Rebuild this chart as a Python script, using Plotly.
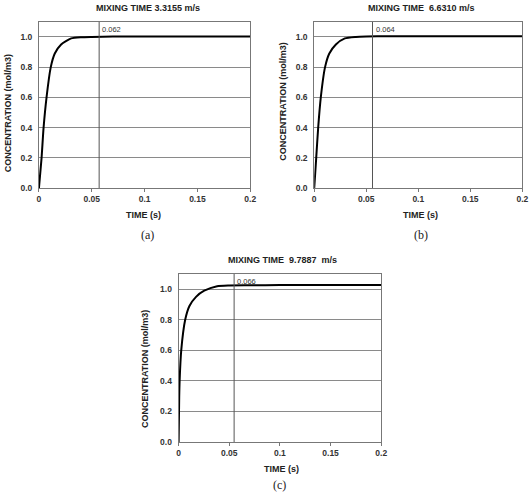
import plotly.graph_objects as go

# ---- data ----
time_a = [0, 0.0025, 0.0044, 0.0072, 0.0112, 0.015, 0.021, 0.0305, 0.04, 0.05, 0.07, 0.1, 0.15, 0.2]
conc_a = [0, 0.2, 0.4, 0.6, 0.8, 0.89, 0.95, 0.99, 0.998, 1.0, 1.002, 1.003, 1.003, 1.003]

time_b = [0, 0.0019, 0.0038, 0.0063, 0.0104, 0.0145, 0.0208, 0.0294, 0.04, 0.05, 0.07, 0.1, 0.15, 0.2]
conc_b = [0, 0.2, 0.4, 0.6, 0.8, 0.89, 0.95, 0.99, 1.0, 1.003, 1.005, 1.005, 1.005, 1.005]

time_c = [0, 0.0006, 0.001, 0.0026, 0.0065, 0.0107, 0.0172, 0.0253, 0.038, 0.05, 0.07, 0.1, 0.15, 0.2]
conc_c = [0, 0.3, 0.4, 0.6, 0.8, 0.89, 0.95, 0.99, 1.02, 1.025, 1.026, 1.027, 1.027, 1.027]

titles = ["MIXING TIME 3.3155 m/s", "MIXING TIME  6.6310 m/s", "MIXING TIME  9.7887  m/s"]
marker_x = [0.057, 0.056, 0.0548]
marker_labels = ["0.062", "0.064", "0.066"]
panel_labels = ["(a)", "(b)", "(c)"]
x_ticks = [0, 0.05, 0.1, 0.15, 0.2]
x_tick_text = ["0", "0.05", "0.1", "0.15", "0.2"]
y_ticks = [0, 0.2, 0.4, 0.6, 0.8, 1.0]

W, H = 532, 499
# plot boxes in pixels: left, right, top, bottom
boxes = [(37.5, 252, 22, 190), (317, 528.3, 22, 190), (179.3, 385, 276.7, 446.5)]
ytitle_dy = [8, -3, 11]
ytitle_dx = [32, 32, 34]

fig = go.Figure()
series = [(time_a, conc_a), (time_b, conc_b), (time_c, conc_c)]
bold = "Liberation Sans"
ann = []
shapes = []
for i, ((t, c), (l, r, tp, bt)) in enumerate(zip(series, boxes)):
    k = "" if i == 0 else str(i + 1)
    fig.add_trace(go.Scatter(x=t, y=c, mode="lines", line=dict(color="black", width=2, shape="spline", smoothing=0.6),
                             xaxis="x" + k, yaxis="y" + k, showlegend=False, hoverinfo="skip"))
    xd = [l / W, r / W]
    yd = [(H - bt) / H, (H - tp) / H]
    fig.update_layout(**{
        "xaxis" + k: dict(domain=xd, range=[0, 0.2], tickvals=x_ticks, ticktext=x_tick_text,
                          showgrid=False, zeroline=False, showline=True, linecolor="#777", mirror=True,
                          ticks="outside", ticklen=3, tickcolor="#777",
                          tickfont=dict(family=bold, size=8.5, color="#333", weight="bold"),
                          anchor="y" + k, fixedrange=True),
        "yaxis" + k: dict(domain=yd, range=[0, 1.1], tickvals=y_ticks, tickformat=".1f",
                          showgrid=True, gridcolor="#8a8a8a", gridwidth=1, zeroline=False,
                          showline=True, linecolor="#777", mirror=True, ticks="",
                          ticklabelstandoff=4,
                          tickfont=dict(family=bold, size=8.5, color="#333", weight="bold"),
                          anchor="x" + k, fixedrange=True),
    })
    xref = "x" + k
    yref = "y" + k
    shapes.append(dict(type="line", xref=xref, yref=yref, x0=marker_x[i], x1=marker_x[i], y0=0, y1=1.1,
                       line=dict(color="#555", width=1)))
    ann.append(dict(x=marker_x[i], y=1.0, xref=xref, yref=yref, text=marker_labels[i], showarrow=False,
                    xanchor="left", yanchor="bottom", xshift=1, yshift=1,
                    font=dict(family="Liberation Sans", size=7.5, color="#333")))
    cx = (l + r) / 2
    ann.append(dict(x=(cx + 3) / W, y=(H - (tp - 14)) / H, xref="paper", yref="paper", text=titles[i],
                    showarrow=False, xanchor="center", yanchor="middle",
                    font=dict(family=bold, size=9, color="#222", weight="bold")))
    ann.append(dict(x=(cx + (-1 if i == 0 else 2)) / W, y=(H - (bt + 27)) / H, xref="paper", yref="paper", text="TIME (s)",
                    showarrow=False, xanchor="center", yanchor="middle",
                    font=dict(family=bold, size=9, color="#222", weight="bold")))
    ann.append(dict(x=(cx + (3 if i < 2 else 0)) / W, y=(H - (bt + (47 if i < 2 else 43))) / H, xref="paper", yref="paper",
                    text=panel_labels[i], showarrow=False, xanchor="center", yanchor="middle",
                    font=dict(family="Liberation Serif", size=12, color="#222")))
    ann.append(dict(x=(l - ytitle_dx[i]) / W, y=(H - ((tp + bt) / 2 + ytitle_dy[i])) / H, xref="paper", yref="paper",
                    text="CONCENTRATION (mol/m3)", showarrow=False, textangle=-90,
                    xanchor="center", yanchor="middle",
                    font=dict(family=bold, size=9, color="#222", weight="bold")))

fig.update_layout(width=W, height=H, margin=dict(l=0, r=0, t=0, b=0),
                  paper_bgcolor="white", plot_bgcolor="white", annotations=ann, shapes=shapes)
fig.write_html("out.html")
